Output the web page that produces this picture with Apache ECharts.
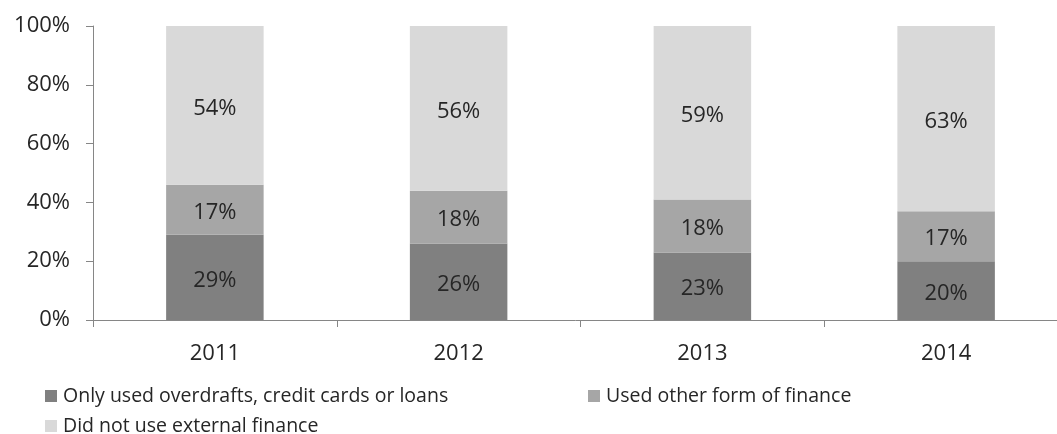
<!DOCTYPE html>
<html>
<head>
<meta charset="utf-8">
<script src="https://cdn.jsdelivr.net/npm/echarts@6/dist/echarts.min.js"></script>
<style>
  html, body { margin: 0; padding: 0; background: #fff; }
  #chart { width: 1057px; height: 434px; }
</style>
</head>
<body>
<div id="chart"></div>
<script>
// Share of firms by finance use, per year (percent)
const years = ['2011', '2012', '2013', '2014'];
const seriesNames = [
  'Only used overdrafts, credit cards or loans',
  'Used other form of finance',
  'Did not use external finance'
];
const onlyOverdrafts = [29, 26, 23, 20];
const otherFinance = [17, 18, 18, 17];
const noExternal = [54, 56, 59, 63];
const yTicks = [0, 20, 40, 60, 80, 100];

const colors = ['#808080', '#a6a6a6', '#d9d9d9'];
const FONT = 'Open Sans';
const TEXT = '#262626';

const chart = echarts.init(document.getElementById('chart'), null, { renderer: 'canvas' });

function barSeries(name, data, color) {
  return {
    name: name,
    type: 'bar',
    stack: 'total',
    data: data,
    barWidth: '40%',
    itemStyle: { color: color },
    label: {
      show: true,
      position: 'inside',
      offset: [0, 3],
      formatter: p => p.value + '%',
      color: TEXT,
      fontFamily: FONT,
      fontSize: 22
    },
    emphasis: { disabled: true }
  };
}

function legendAt(left, top, name) {
  return {
    left: left, top: top,
    data: [name],
    icon: 'rect',
    itemWidth: 12, itemHeight: 12, itemGap: 0,
    textStyle: { color: TEXT, fontFamily: FONT, fontSize: 19.5, padding: [0, 0, 0, 1] },
    selectedMode: false
  };
}

chart.setOption({
  animation: false,
  color: colors,
  // plot area runs past the right edge of the canvas
  grid: { left: 93, top: 26, bottom: 114, right: -11, outerBoundsMode: 'none', containLabel: false },
  legend: [
    legendAt(40, 381, seriesNames[0]),
    legendAt(583, 381, seriesNames[1]),
    legendAt(40, 411, seriesNames[2])
  ],
  xAxis: {
    type: 'category',
    data: years,
    axisLine: { lineStyle: { color: '#868686', width: 1 } },
    axisTick: { show: true, length: 7, lineStyle: { color: '#868686' } },
    axisLabel: { color: TEXT, fontFamily: FONT, fontSize: 22, margin: 23 }
  },
  yAxis: {
    type: 'value',
    min: yTicks[0],
    max: yTicks[yTicks.length - 1],
    interval: yTicks[1] - yTicks[0],
    axisLine: { show: true, lineStyle: { color: '#868686', width: 1 } },
    axisTick: { show: true, length: 7, lineStyle: { color: '#868686' } },
    splitLine: { show: false },
    axisLabel: { color: TEXT, fontFamily: FONT, fontSize: 22, margin: 23, formatter: v => v + '%' }
  },
  series: [
    barSeries(seriesNames[0], onlyOverdrafts, colors[0]),
    barSeries(seriesNames[1], otherFinance, colors[1]),
    barSeries(seriesNames[2], noExternal, colors[2])
  ]
});
</script>
</body>
</html>
